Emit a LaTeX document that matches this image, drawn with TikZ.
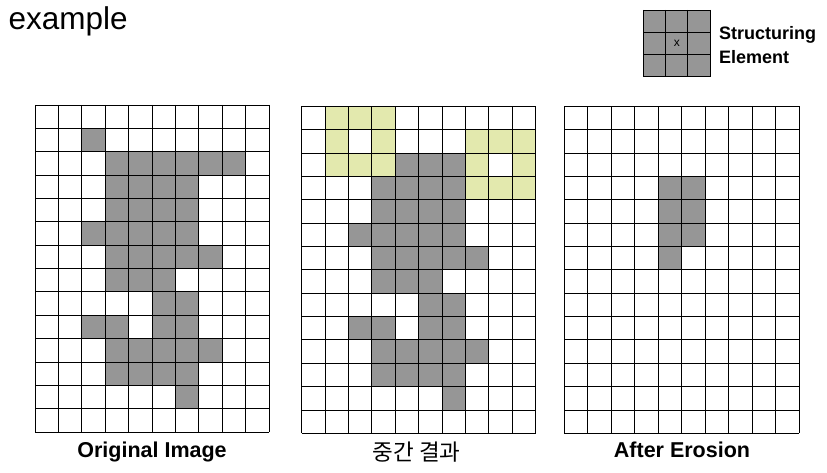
\documentclass[tikz,border=0pt]{standalone}
\usepackage{fontspec}
\setmainfont{Liberation Sans}
\newfontfamily\krfont{Noto Sans CJK KR}
\definecolor{cellgray}{RGB}{150,150,150}
\definecolor{seyellow}{RGB}{227,233,174}
\tikzset{
  gridline/.style={line width=0.9pt,black},
  graycell/.style={fill=cellgray},
  yellowcell/.style={fill=seyellow},
  caption/.style={font=\bfseries\fontsize{21.5}{24}\selectfont,inner sep=0pt},
}
\begin{document}
\begin{tikzpicture}[x=1pt,y=-1pt]
\useasboundingbox (0,0) rectangle (827,473);
\fill[white] (0,0) rectangle (827,473);
\node[anchor=base west,inner sep=0pt,font=\fontsize{31.5}{33}\selectfont] (title) at (8.5,30) {example};
% ---- structuring element
\begin{scope}[shift={(643.5,10)},x=22.2pt,y=-22.2pt]
  \fill[graycell] (0,0) rectangle (3,3);
  \foreach \i in {0,...,3}{
    \draw[line width=0.9pt] (\i,0) -- (\i,3);
    \draw[line width=0.9pt] (0,\i) -- (3,\i);
  }
  \node[font=\fontsize{12}{12}\selectfont,inner sep=0pt] (sex) at (1.5,1.5) {x};
\end{scope}
\node[anchor=west,align=left,inner sep=0pt,font=\bfseries\fontsize{18}{24}\selectfont] (selabel) at (719,45) {Structuring\\Element};
% ---- grid 1
\begin{scope}[shift={(35,105)},x=23.4pt,y=-23.36pt]
  \foreach \r/\cols in {1/{2},2/{3,4,5,6,7,8},3/{3,4,5,6},4/{3,4,5,6},5/{2,3,4,5,6},6/{3,4,5,6,7},7/{3,4,5},8/{5,6},9/{2,3,5,6},10/{3,4,5,6,7},11/{3,4,5,6},12/{6}}
    \foreach \c in \cols \fill[graycell] (\c,\r) rectangle ++(1,1);
  \foreach \i in {0,...,10} \draw[gridline] (\i,0) -- (\i,14);
  \foreach \i in {0,...,14} \draw[gridline] (0,\i) -- (10,\i);
\end{scope}
% ---- grid 2
\begin{scope}[shift={(301.7,106.3)},x=23.4pt,y=-23.36pt]
  \foreach \r/\cols in {0/{1,2,3},1/{1,3,7,8,9},2/{1,2,3,7,9},3/{7,8,9}}
    \foreach \c in \cols \fill[yellowcell] (\c,\r) rectangle ++(1,1);
  \foreach \r/\cols in {2/{4,5,6},3/{3,4,5,6},4/{3,4,5,6},5/{2,3,4,5,6},6/{3,4,5,6,7},7/{3,4,5},8/{5,6},9/{2,3,5,6},10/{3,4,5,6,7},11/{3,4,5,6},12/{6}}
    \foreach \c in \cols \fill[graycell] (\c,\r) rectangle ++(1,1);
  \foreach \i in {0,...,10} \draw[gridline] (\i,0) -- (\i,14);
  \foreach \i in {0,...,14} \draw[gridline] (0,\i) -- (10,\i);
\end{scope}
% ---- grid 3
\begin{scope}[shift={(564,106.3)},x=23.5pt,y=-23.36pt]
  \foreach \r/\cols in {3/{4,5},4/{4,5},5/{4,5},6/{4}}
    \foreach \c in \cols \fill[graycell] (\c,\r) rectangle ++(1,1);
  \foreach \i in {0,...,10} \draw[gridline] (\i,0) -- (\i,14);
  \foreach \i in {0,...,14} \draw[gridline] (0,\i) -- (10,\i);
\end{scope}
% ---- captions
\node[caption,anchor=base] (cap1) at (152,457.5) {Original Image};
\node[inner sep=0pt,font=\krfont\fontsize{22.5}{24}\selectfont] (cap2) at (416.7,452) {중간 결과};
\node[caption,anchor=base] (cap3) at (682,457.5) {After Erosion};
\end{tikzpicture}
\end{document}
